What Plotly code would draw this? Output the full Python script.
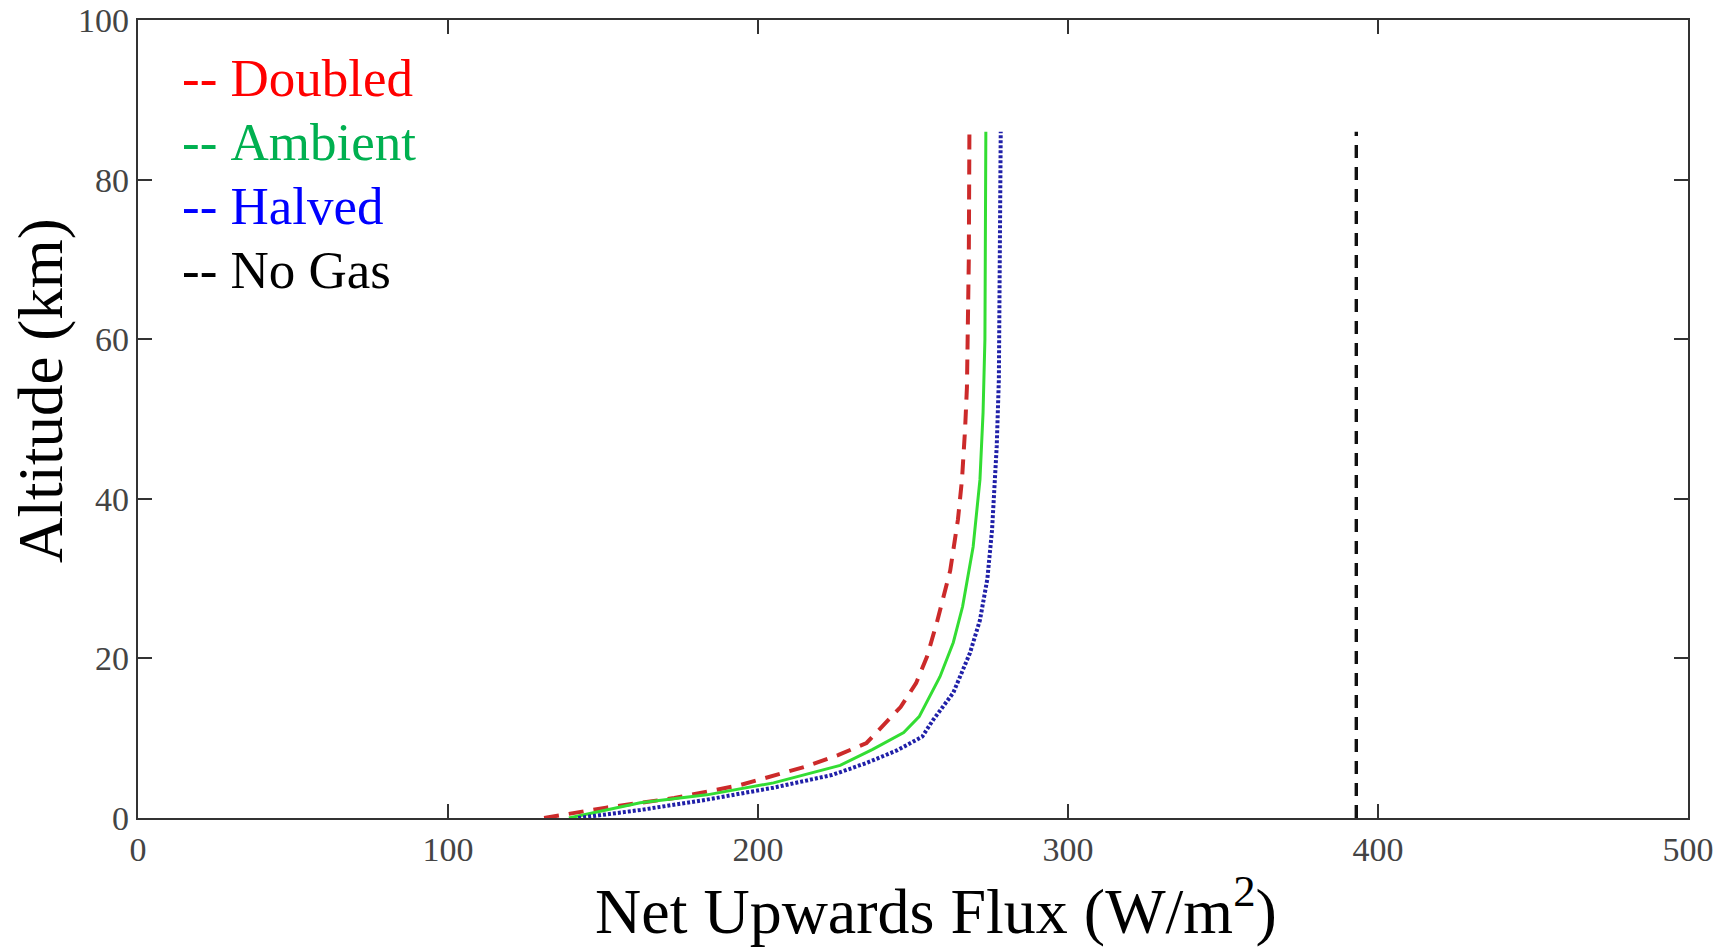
import plotly.graph_objects as go

# Net upward longwave flux profiles (W/m^2) versus altitude (km)
doubled_alt = [0, 1.3, 2.5, 4.1, 6.4, 7.9, 9.4, 11.4, 13.9, 16.9, 20.2, 24.5, 31, 37.4, 42.4, 48.7, 54, 70, 86]
doubled_flux = [131, 151, 173, 194, 215, 226, 235, 240, 246, 251, 254.5, 257.7, 262, 264.5, 265.8, 266.8, 267.4, 268, 268.2]

ambient_alt = [0, 1.9, 2.9, 4.4, 6.6, 8.6, 10.7, 12.7, 17.7, 22, 26.5, 34, 42.4, 50.8, 60, 86]
ambient_flux = [139, 162, 183.5, 205, 226.5, 237, 247, 252, 258.7, 263, 266, 269.4, 271.6, 272.6, 273.2, 273.5]

halved_alt = [0, 1, 2.3, 3.8, 5.4, 6.9, 8.5, 10.2, 12.3, 15.7, 20.7, 24.8, 30, 36.1, 46.5, 55, 86]
halved_flux = [142, 162, 183.5, 205, 224, 235, 245, 253, 256.5, 263, 268.4, 271.6, 274, 275.5, 277, 277.7, 278.3]

nogas_alt = [0, 86]
nogas_flux = [393, 393]

legend_labels = ["--&nbsp;Doubled", "--&nbsp;Ambient", "--&nbsp;Halved", "--&nbsp;No Gas"]
legend_colors = ["#ff0000", "#00b050", "#0000ff", "#000000"]

x_ticks = [0, 100, 200, 300, 400, 500]
y_ticks = [0, 20, 40, 60, 80, 100]

x_title = "Net Upwards Flux (W/m<sup>2</sup>)"
y_title = "Altitude (km)"

# plot-area geometry in pixels
W, H = 1730, 950
ML, MR, MT, MB = 138, 42, 20, 132
plot_w = W - ML - MR
plot_h = H - MT - MB


def paper_x(px):
    return (px - ML) / plot_w


def paper_y(py):
    return 1 - (py - MT) / plot_h


fig = go.Figure()
fig.add_trace(go.Scatter(x=doubled_flux, y=doubled_alt, mode="lines",
                         line=dict(color="#cc2a2a", width=4, dash="15px,10px")))
fig.add_trace(go.Scatter(x=ambient_flux, y=ambient_alt, mode="lines",
                         line=dict(color="#33dd33", width=3)))
fig.add_trace(go.Scatter(x=halved_flux, y=halved_alt, mode="lines",
                         line=dict(color="#2020a8", width=4, dash="3px,2px")))
fig.add_trace(go.Scatter(x=nogas_flux, y=nogas_alt, mode="lines",
                         line=dict(color="#111111", width=3.4, dash="13px,9px")))

# text legend in the upper-left corner
for i, (label, color) in enumerate(zip(legend_labels, legend_colors)):
    fig.add_annotation(x=paper_x(180), y=paper_y(78 + i * 64),
                       xref="paper", yref="paper",
                       text=label, showarrow=False, xanchor="left", yanchor="middle",
                       font=dict(family="Liberation Serif", size=53, color=color))

# axis titles
fig.add_annotation(x=paper_x(936), y=paper_y(906), xref="paper", yref="paper",
                   text=x_title, showarrow=False, xanchor="center", yanchor="middle",
                   font=dict(family="Liberation Serif", size=64, color="#000000"))
fig.add_annotation(x=paper_x(41), y=paper_y(391), xref="paper", yref="paper",
                   text=y_title, showarrow=False, textangle=-90,
                   xanchor="center", yanchor="middle",
                   font=dict(family="Liberation Serif", size=63, color="#000000"))

axis_common = dict(showline=True, linecolor="#333333", linewidth=2.2, mirror="ticks",
                   ticks="inside", ticklen=14, tickwidth=2, tickcolor="#333333",
                   showgrid=False, zeroline=False, automargin=False,
                   tickfont=dict(family="Liberation Serif", size=34, color="#444444"))

fig.update_layout(
    width=W, height=H,
    paper_bgcolor="white", plot_bgcolor="white",
    showlegend=False,
    margin=dict(l=ML, r=MR, t=MT, b=MB, autoexpand=False),
    xaxis=dict(range=[0, 500], tickvals=x_ticks, **axis_common),
    yaxis=dict(range=[0, 100], tickvals=y_ticks, **axis_common),
)

fig.write_html("out.html")
